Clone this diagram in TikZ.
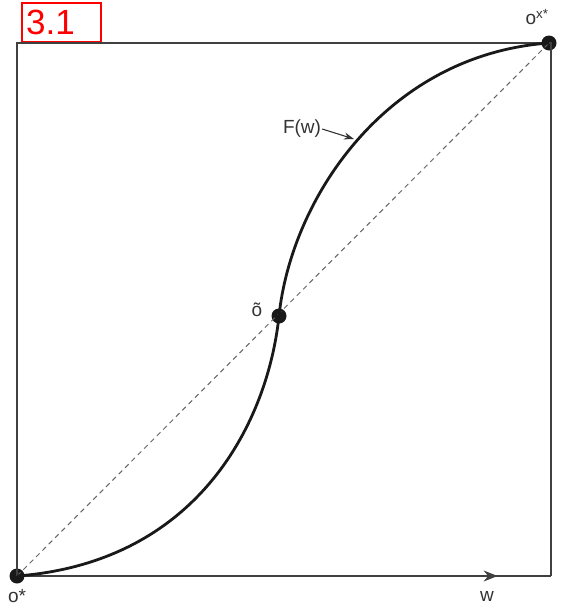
\documentclass[tikz,border=0pt]{standalone}
\usepackage{fontspec}
\setmainfont{Liberation Sans}
\usepackage{xcolor}
\usetikzlibrary{arrows.meta,decorations.markings}

\tikzset{
  dot/.style={circle,fill=black!90,inner sep=0pt,minimum size=15pt},
  lbl/.style={font=\fontsize{19}{21}\selectfont,text=black!80,inner sep=1pt},
}

\begin{document}
\begin{tikzpicture}[x=1pt,y=-1pt]
\useasboundingbox (0,0) rectangle (566,608);

\node[draw=red,line width=1.4pt,minimum width=79pt,minimum height=39pt,inner sep=0pt] (tag) at (61.5,22.5) {};
\node[text=red,font=\fontsize{35}{37}\selectfont,anchor=west,inner sep=0pt] (tagtxt) at (26,22) {3.1};

\coordinate (bl) at (17,576);
\coordinate (br) at (551,576);
\coordinate (tr) at (551,43);
\coordinate (tl) at (17,43);

\node[dot] (o1) at (17,576) {};
\node[dot] (o2) at (279,316) {};
\node[dot] (o3) at (549,43) {};

\node[lbl] (lo1) at (17,596) {o*};
\node[lbl] (lo2) at (257,310) {õ};
\node[lbl] (lo3) at (537,17) {o\textsuperscript{x*}};
\node[lbl] (lw) at (487,596) {w};
\node[lbl] (lF) at (302,129) {F(w)};
\coordinate (fw) at (354,139);

\draw[black!75,line width=1.3pt] (bl) -- (tl) -- (tr) -- (br);
\draw[black!75,line width=1.3pt,
  postaction={decorate,decoration={markings,
    mark=at position 0.9 with {\arrow{Stealth[length=14pt,width=11pt]}}}}] (bl) -- (br);

\draw[black!60,line width=1pt,dash pattern=on 5pt off 4pt] (o1.center) -- (o3.center);

\draw[black!90,line width=2.8pt] (o1.center) .. controls (200,562) and (268,420) .. (o2.center)
  .. controls (291,200) and (385,55) .. (o3.center);

\draw[-{Stealth[length=10pt,width=7pt]},black!80,line width=1.1pt] (lF.east) -- (fw);
\end{tikzpicture}
\end{document}
